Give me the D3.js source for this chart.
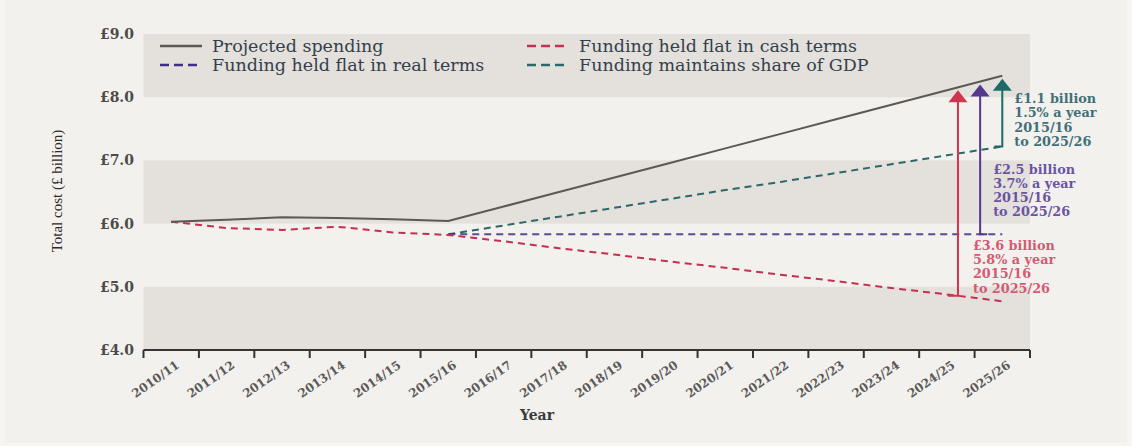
<!DOCTYPE html>
<html><head><meta charset="utf-8">
<script src="https://cdn.jsdelivr.net/npm/d3@7/dist/d3.min.js"></script>
<style>html,body{margin:0;padding:0;background:#f6f5f2;}svg{display:block;}</style>
</head><body><svg id="c" width="1132" height="446"></svg>
<script>
const years = ["2010/11","2011/12","2012/13","2013/14","2014/15","2015/16","2016/17","2017/18","2018/19","2019/20","2020/21","2021/22","2022/23","2023/24","2024/25","2025/26"];
const projected = [6.03,6.06,6.10,6.09,6.07,6.04,6.27,6.50,6.73,6.96,7.19,7.42,7.65,7.88,8.11,8.34];
const cashTerms = [6.03,5.93,5.90,5.95,5.86,5.82,5.72,5.61,5.51,5.40,5.30,5.19,5.09,4.98,4.88,4.77];
const realTerms = [null,null,null,null,null,5.83,5.83,5.83,5.83,5.83,5.83,5.83,5.83,5.83,5.83,5.83];
const gdpShare  = [null,null,null,null,null,5.83,5.97,6.11,6.25,6.39,6.53,6.66,6.80,6.94,7.08,7.22];
const yTicks = [4,5,6,7,8,9];
const seriesNames = ["Projected spending","Funding held flat in real terms","Funding held flat in cash terms","Funding maintains share of GDP"];
const annotations = [
  {key:"gdp",  lines:["£1.1 billion","1.5% a year","2015/16","to 2025/26"]},
  {key:"real", lines:["£2.5 billion","3.7% a year","2015/16","to 2025/26"]},
  {key:"cash", lines:["£3.6 billion","5.8% a year","2015/16","to 2025/26"]}
];

const svg = d3.select("#c");
const W=1132,H=446;
const L=143.5,R=1030,T=34,B=350;
const serif = "'DejaVu Serif', serif";
const C = {bg:"#f3f1ed", band:"#e4e0dc", proj:"#5e5853", cash:"#c5304f", real:"#3e2f86", gdp:"#2a6869",
  cashArrow:"#d0344f", realArrow:"#54388f", gdpArrow:"#1e6a66",
  cashText:"#d45a74", realText:"#6a54a2", gdpText:"#3f7078", text:"#33404c", axis:"#333"};

svg.append("rect").attr("width",W).attr("height",H).attr("fill","#f7f6f3");
svg.append("rect").attr("x",5).attr("y",0).attr("width",W-10).attr("height",443).attr("fill",C.bg);

const x = d3.scaleBand().domain(years).range([L,R]).padding(0);
const bw = x.bandwidth();
const xc = d => x(d)+bw/2;
const y = d3.scaleLinear().domain([4,9]).range([B,T]);

// bands
[[8,9],[6,7],[4,5]].forEach(([a,b])=>{
  svg.append("rect").attr("x",L).attr("y",y(b)).attr("width",R-L).attr("height",y(a)-y(b)).attr("fill",C.band);
});

// y tick labels
svg.append("g").selectAll("text").data(yTicks).join("text")
  .attr("x",134).attr("y",d=>y(d)).attr("dy","0.35em").attr("text-anchor","end")
  .attr("font-family",serif).attr("font-weight","bold").attr("font-size",14).attr("fill","#4b4b4b")
  .text(d=>"£"+d.toFixed(1));

// x axis
const xAxis = svg.append("g");
xAxis.append("line").attr("x1",L).attr("x2",R).attr("y1",B).attr("y2",B).attr("stroke",C.axis).attr("stroke-width",2);
const tickPos = years.map(d=>x(d)).concat([R]);
xAxis.selectAll("line.t").data(tickPos).join("line").attr("class","t")
  .attr("x1",d=>d).attr("x2",d=>d).attr("y1",B).attr("y2",B+8).attr("stroke",C.axis).attr("stroke-width",2);
xAxis.selectAll("text").data(years).join("text")
  .attr("transform",d=>`translate(${xc(d)+9},${B+17}) rotate(-35)`)
  .attr("text-anchor","end").attr("font-family",serif).attr("font-weight","bold").attr("font-size",12).attr("fill","#5a5a5a")
  .text(d=>d);

// axis titles
svg.append("text").attr("x",537).attr("y",420).attr("text-anchor","middle")
  .attr("font-family",serif).attr("font-weight","bold").attr("font-size",14).attr("fill","#3a3a3a").text("Year");
svg.append("text").attr("transform","translate(62,191) rotate(-90)").attr("text-anchor","middle")
  .attr("font-family","'Liberation Serif', serif").attr("font-size",15).attr("fill","#2a2a2a").text("Total cost (£ billion)");

// lines
const line = d3.line().defined(d=>d.v!=null).x(d=>xc(d.k)).y(d=>y(d.v));
const mk = arr => years.map((k,i)=>({k,v:arr[i]}));
const dash = "7,5";
svg.append("path").datum(mk(gdpShare)).attr("d",line).attr("fill","none").attr("stroke",C.gdp).attr("stroke-width",2).attr("stroke-dasharray",dash);
svg.append("path").datum(mk(realTerms)).attr("d",line).attr("fill","none").attr("stroke",C.real).attr("stroke-opacity",0.85).attr("stroke-width",2).attr("stroke-dasharray",dash);
svg.append("path").datum(mk(cashTerms)).attr("d",line).attr("fill","none").attr("stroke",C.cash).attr("stroke-width",2).attr("stroke-dasharray",dash);
svg.append("path").datum(mk(projected)).attr("d",line).attr("fill","none").attr("stroke",C.proj).attr("stroke-width",2);

// arrows
const last = years.length-1;
const seriesAt = (arr,pos) => { const f=-pos; return arr[last]-(arr[last]-arr[last-1])*f; };
const arrowDefs = [
  {key:"gdp", arr:gdpShare, pos:0, col:C.gdpArrow, stub:-8, tcol:C.gdpText, tx:12, ty:[103,117,131.5,146]},
  {key:"real", arr:realTerms, pos:-0.4, col:C.realArrow, stub:7, tcol:C.realText, tx:13, ty:[173.5,187.5,201.5,216]},
  {key:"cash", arr:cashTerms, pos:-0.8, col:C.cashArrow, stub:-10, tcol:C.cashText, tx:15, ty:[249.5,264,278,292.5]}
];
arrowDefs.forEach(a=>{
  const ax = xc(years[last]) + a.pos*bw;
  const yb = y(seriesAt(a.arr,a.pos));
  const yt = y(seriesAt(projected,a.pos))+3;
  const g = svg.append("g");
  g.append("path").attr("d",`M${ax+a.stub},${yb}H${ax}V${yt+10}`).attr("fill","none").attr("stroke",a.col).attr("stroke-width",2);
  g.append("path").attr("d",`M${ax},${yt}L${ax-9.5},${yt+12}L${ax+9.5},${yt+12}Z`).attr("fill",a.col);
  const ann = annotations.find(n=>n.key===a.key);
  g.selectAll("text").data(ann.lines).join("text")
    .attr("x",ax+a.tx).attr("y",(d,i)=>a.ty[i])
    .attr("font-family",serif).attr("font-weight","bold").attr("font-size",12.8).attr("fill",a.tcol).text(d=>d);
});

// legend
const leg = [
  {name:seriesNames[0], col:C.proj, dash:null, lx:160, ly:46},
  {name:seriesNames[1], col:C.real, dash:"9,5", lx:160, ly:65},
  {name:seriesNames[2], col:C.cash, dash:"9,5", lx:527, ly:46},
  {name:seriesNames[3], col:C.gdp, dash:"9,5", lx:527, ly:65}
];
const lg = svg.append("g");
leg.forEach(d=>{
  lg.append("line").attr("x1",d.lx).attr("x2",d.lx+42).attr("y1",d.ly).attr("y2",d.ly)
    .attr("stroke",d.col).attr("stroke-width",2.4).attr("stroke-dasharray",d.dash);
  lg.append("text").attr("x",d.lx+52).attr("y",d.ly).attr("dy","0.33em")
    .attr("font-family",serif).attr("font-size",17.5).attr("fill",C.text).text(d.name);
});
</script></body></html>
